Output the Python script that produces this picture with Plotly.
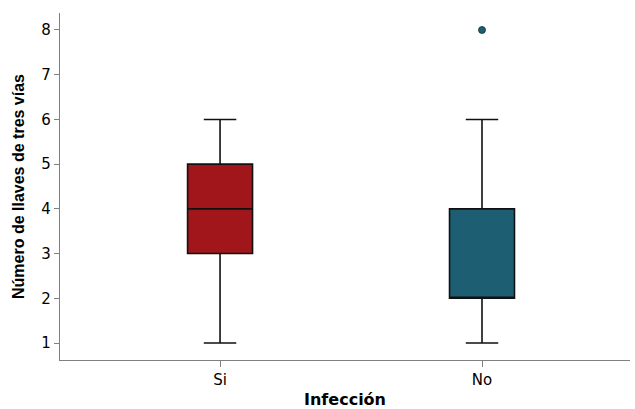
import plotly.graph_objects as go

categories = ["Si", "No"]
q1 = [3, 2]
median = [4, 2]
q3 = [5, 4]
lower = [1, 1]
upper = [6, 6]
outlier_cat = ["No"]
outlier_val = [8]
colors = ["#A1161B", "#1D5E73"]
yticks = [1, 2, 3, 4, 5, 6, 7, 8]

fig = go.Figure()
for i, c in enumerate(categories):
    fig.add_trace(go.Box(
        x=[c], q1=[q1[i]], median=[median[i]], q3=[q3[i]],
        lowerfence=[lower[i]], upperfence=[upper[i]],
        fillcolor=colors[i], line=dict(color="#111111", width=1.6),
        width=0.248, whiskerwidth=0.5, boxpoints=False, showlegend=False,
        hoverinfo="skip",
    ))
fig.add_trace(go.Scatter(
    x=outlier_cat, y=outlier_val, mode="markers",
    marker=dict(color=colors[1], size=7, line=dict(color="#17303a", width=0.8)),
    showlegend=False, hoverinfo="skip",
))

fig.update_layout(
    width=635, height=409,
    margin=dict(l=60, r=5, t=13, b=49, autoexpand=False),
    paper_bgcolor="white", plot_bgcolor="white",
    font=dict(family="DejaVu Sans, Liberation Sans, Arial", color="black"),
)
fig.update_xaxes(
    type="category", categoryorder="array", categoryarray=categories,
    range=[-0.611, 1.565], showgrid=False, zeroline=False, automargin=False,
    showline=True, linecolor="#808080", linewidth=1.2,
    ticks="outside", ticklen=6, tickcolor="#808080", tickwidth=1.2,
    tickfont=dict(size=15, family="DejaVu Sans"),
    title=dict(text="<b>Infección</b>", font=dict(size=16, family="DejaVu Sans"), standoff=12),
)
fig.update_yaxes(
    range=[0.62, 8.38], tickvals=yticks, showgrid=False, zeroline=False, automargin=False,
    showline=True, linecolor="#808080", linewidth=1.2,
    ticks="outside", ticklen=5, tickcolor="#808080", tickwidth=1.2,
    tickfont=dict(size=15, family="DejaVu Sans"),
    title=dict(text="<b>Número de llaves de tres vías</b>",
               font=dict(size=16, family="Liberation Sans, Arial"), standoff=12),
)

fig.write_html(
    "out.html",
    config={"displayModeBar": False},
    post_script="document.body.style.margin='0';document.documentElement.style.overflow='hidden';",
)
